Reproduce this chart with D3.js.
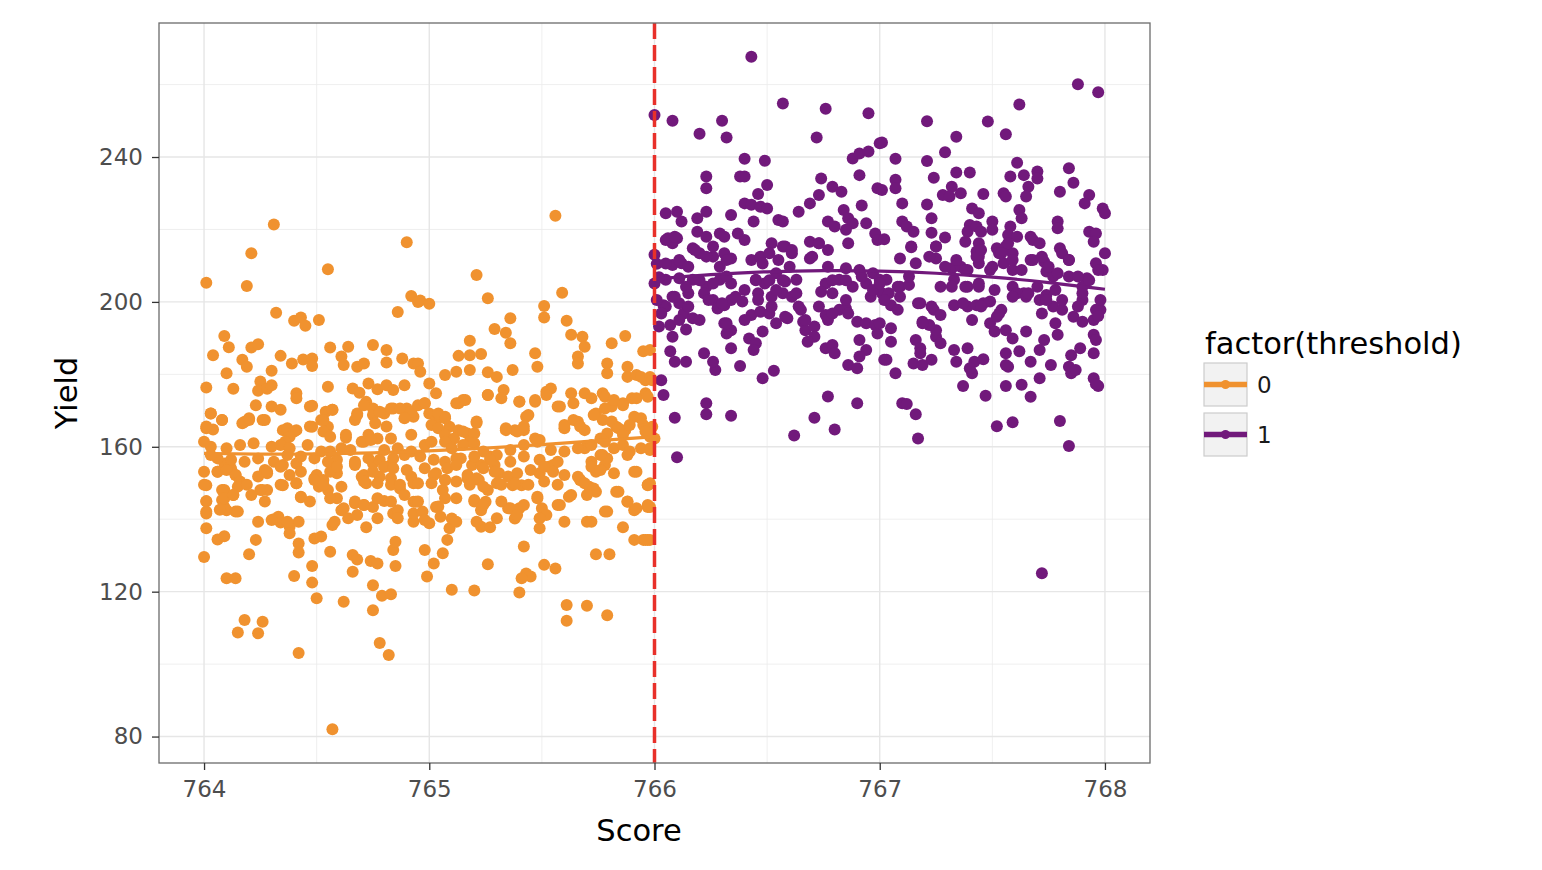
<!DOCTYPE html>
<html><head><meta charset="utf-8">
<script src="https://cdn.jsdelivr.net/npm/d3@7"></script>
<style>body{margin:0;background:#fff;} svg{display:block;font-family:"DejaVu Sans",sans-serif;}</style>
</head><body><svg id="chart" width="1542" height="870"></svg>
<script>
const xTicks=[764,765,766,767,768];
const xMinor=[764.5,765.5,766.5,767.5];
const yTicks=[80,120,160,200,240];
const yMinor=[100,140,180,220,260];
const threshold=766;
const groups=["0","1"];
const colors=["#F0922F","#71197B"];
const xTitle="Score", yTitle="Yield", legendTitle="factor(threshold)";

const smooth0=[[764.0,158.2],[764.25,157.9],[764.5,158.0],[764.75,158.3],[765.0,158.8],[765.25,159.6],[765.5,160.6],[765.75,161.7],[766.0,162.8]];
const smooth1=[[766.0,206.3],[766.25,207.6],[766.5,208.4],[766.75,208.7],[767.0,208.6],[767.25,208.0],[767.5,206.9],[767.75,205.4],[768.0,203.5]];

const points0=[
[764.31,221.4],[764.21,213.4],[764.01,205.3],[764.19,204.4],[764.55,209.0],[764.90,216.5],[764.92,201.6],[764.95,200.0],[764.86,197.2],[764.32,197.0],[764.40,194.8],[764.43,195.7],[764.45,193.4],[764.51,195.0],[764.09,190.6],[764.11,187.5],[764.04,185.3],[764.21,187.4],[764.24,188.3],[764.17,184.0],[764.19,182.1],[764.34,185.1],[764.39,183.0],[764.44,184.1],[764.48,184.4],[764.48,182.3],[764.56,187.4],[764.61,184.9],[764.64,187.6],[764.62,182.6],[764.68,182.1],[764.71,183.0],[764.75,188.1],[764.81,186.7],[764.81,183.3],[764.88,184.4],[764.93,183.0],[764.10,180.3],[764.01,176.4],[764.13,176.0],[764.30,181.0],[764.25,178.0],[764.24,175.5],[764.28,176.0],[764.30,177.0],[764.41,174.8],[764.41,173.4],[764.55,176.6],[764.48,171.3],[764.57,170.2],[764.66,176.1],[764.69,174.9],[764.73,177.5],[764.77,175.9],[764.81,177.0],[764.84,175.7],[764.89,177.0],[764.72,172.4],[764.75,170.6],[764.80,169.2],[764.84,170.6],[764.90,170.6],[764.93,168.3],[764.03,169.2],[764.08,167.4],[764.01,165.1],[764.04,164.8],[764.18,166.9],[764.20,167.4],[764.27,167.4],[764.35,164.6],[764.38,163.7],[764.41,164.6],[764.48,165.5],[764.52,167.4],[764.55,165.5],[764.68,169.2],[764.67,167.4],[764.63,162.5],
[765.56,223.8],[765.21,207.4],[765.26,201.0],[765.59,202.5],[765.51,198.9],[765.51,195.7],[764.96,200.4],[765.00,199.5],[765.36,195.5],[765.29,192.5],[765.34,191.5],[765.36,188.6],[765.61,194.8],[765.63,190.9],[765.68,190.4],[765.69,187.6],[765.18,189.3],[765.13,185.1],[765.18,185.3],[765.23,185.6],[765.07,179.8],[765.12,180.7],[765.18,181.2],[765.26,180.6],[765.30,179.3],[765.37,181.2],[765.47,185.8],[765.48,182.1],[765.66,184.9],[765.66,183.0],[765.81,188.6],[765.87,190.6],[765.95,186.4],[765.79,183.0],[765.79,180.3],[765.88,182.1],[765.88,179.3],[765.92,179.8],[765.96,178.4],[764.95,183.0],[764.96,180.7],[765.00,177.5],[765.03,174.8],[765.26,174.3],[765.33,175.7],[765.40,172.4],[765.47,172.4],[765.52,175.2],[765.54,176.1],[765.58,171.1],[765.63,174.8],[765.69,174.8],[765.77,174.8],[765.13,172.0],[765.15,172.9],[764.98,172.0],[765.21,166.6],[765.34,164.6],[765.38,164.6],[765.43,168.3],[765.42,164.6],[765.60,165.1],[765.66,166.9],[765.69,164.6],[765.74,169.2],[765.77,167.4],[765.81,171.1],[765.86,172.0],[765.90,173.4],[765.96,174.8],[765.94,179.3],[765.95,166.0],[765.83,165.5],[765.87,164.6],[765.91,168.3],[765.00,169.2],[765.03,167.4],[765.07,168.3],[765.09,165.5],[765.13,164.6],[765.17,163.7],[765.20,163.7],[765.49,161.9],
[765.98,186.7],[765.98,179.3],[765.99,178.4],[765.99,165.5],[765.98,162.8],[765.98,159.1],[765.98,149.9],[765.98,143.4],[765.98,134.3],[765.95,134.3],[765.97,134.3],
[764.00,153.1],[764.01,149.4],[764.01,145.0],[764.01,141.6],[764.01,137.5],[764.00,129.6],[764.06,134.4],[764.09,135.3],[764.08,145.3],[764.09,143.4],[764.10,142.5],[764.14,142.1],[764.06,153.1],[764.09,155.4],[764.12,154.0],[764.14,152.2],[764.08,148.1],[764.13,146.7],[764.10,123.7],[764.14,123.7],[764.23,134.3],[764.20,130.3],[764.18,112.2],[764.26,111.7],[764.15,108.7],[764.24,108.5],[764.42,103.1],[764.57,82.0],[764.40,124.3],[764.43,146.1],[764.31,140.0],[764.34,139.1],[764.38,137.9],[764.38,136.1],[764.42,139.3],[764.42,133.3],[764.42,130.8],[764.48,127.1],[764.48,122.5],[764.50,118.2],[764.49,134.7],[764.52,135.2],[764.57,138.4],[764.56,131.0],[764.62,117.2],[764.66,130.1],[764.68,128.9],[764.66,125.5],[764.72,137.8],[764.75,121.8],[764.75,114.9],[764.74,128.5],[764.77,127.8],[764.78,105.8],[764.82,102.5],[764.79,118.9],[764.83,119.3],[764.84,131.5],[764.85,133.8],[764.85,127.1],[764.93,139.3],[764.67,144.4],[764.71,143.9],[764.75,143.4],[764.80,145.0],[764.84,141.6],[764.86,142.5],[764.61,142.5],[764.51,149.0],[764.55,148.1],[764.35,149.4],[764.41,149.9],[764.27,153.6],[764.28,152.7],[764.26,148.1],[764.28,148.1],[764.35,155.0],[764.41,155.4],[764.49,151.3],[764.53,150.8],[764.58,155.0],[764.59,152.7],[764.59,145.8],[764.67,155.0],[764.75,155.4],[764.80,154.5],[764.83,155.0],[764.70,151.7],[764.72,149.9],[764.78,151.7],[764.83,151.3],[764.87,148.5],[764.92,151.7],[764.93,149.9],[764.93,144.8],[764.93,141.6],
[764.99,124.2],[765.10,120.5],[765.20,120.3],[764.98,131.5],[765.02,127.8],[765.06,130.6],[765.08,134.3],[765.09,137.5],[765.10,140.2],[765.12,139.3],[765.26,127.6],[765.40,119.8],[765.42,132.5],[765.43,125.0],[765.45,124.2],[765.41,123.7],[765.51,127.4],[765.56,126.4],[765.61,116.3],[765.70,116.1],[765.61,112.0],[765.79,113.5],[765.74,130.3],[765.80,130.3],[765.70,139.3],[765.49,137.5],[765.79,142.1],[765.86,137.8],[765.91,134.3],[765.96,134.3],[765.91,142.5],[765.97,143.4],[765.23,137.9],[765.27,137.8],[765.38,140.2],[765.35,143.0],[765.40,143.0],[765.20,145.3],[765.25,144.8],[765.23,142.5],[765.48,146.2],[765.50,143.0],[765.52,141.2],[765.58,143.9],[765.62,146.2],[765.83,147.6],[765.88,144.8],[765.91,153.1],[765.97,149.4],[765.37,149.4],[765.41,149.4],[765.30,149.9],[765.31,152.7],[765.17,151.3],[765.22,150.8],[765.26,148.1],[765.06,148.1],[765.07,150.8],[765.03,152.7],[764.94,144.8],[764.97,142.1],[765.00,138.9],[765.03,143.4],[765.67,150.8],[765.71,149.0],[765.74,147.6],[765.66,151.7],[765.49,152.7],[765.53,154.5],[765.55,155.0],[765.69,159.6],[765.77,157.7],[765.78,155.0],[765.74,153.1],[765.14,156.8],[765.19,155.0],[765.27,157.3],[765.29,155.0],
[764.03,169.2],[764.01,165.6],[764.08,167.4],[764.17,166.5],[764.20,167.9],[764.26,167.4],[764.23,171.5],[764.30,171.1],[764.34,170.2],[764.37,165.1],[764.40,164.2],[764.38,162.8],[764.36,161.4],[764.47,171.1],[764.54,169.7],[764.57,170.2],[764.53,167.4],[764.47,165.6],[764.53,164.2],[764.56,162.8],[764.63,163.3],[764.68,168.8],[764.71,171.5],[764.75,168.8],[764.78,169.7],[764.83,170.6],[764.87,170.6],[764.92,169.7],[764.95,171.5],[764.98,172.0],[764.76,166.5],[764.81,165.6],[764.89,167.9],[764.92,163.3],[764.83,162.3],[764.77,162.3],[764.71,161.4],[764.73,163.3],[765.04,169.2],[765.07,167.9],[765.01,166.0],[765.04,165.1],[765.07,163.3],[765.11,162.3],[765.15,164.2],[765.18,161.4],[765.21,167.0],[765.12,172.0],[765.16,172.9],[765.26,174.3],[765.32,173.4],[765.40,172.5],[765.47,172.9],[765.52,174.3],[765.57,171.1],[765.64,172.0],[765.72,173.4],[765.78,173.8],[765.82,172.9],[765.86,171.5],[765.92,173.4],[765.97,173.8],[765.34,165.1],[765.39,164.2],[765.42,165.6],[765.44,168.8],[765.47,162.3],[765.60,166.0],[765.64,167.4],[765.67,165.6],[765.73,168.8],[765.78,170.6],[765.81,167.0],[765.84,165.1],[765.86,163.3],[765.89,166.0],[765.94,167.9],[765.96,164.2],[765.79,163.7],[765.76,162.3],
[764.00,161.4],[764.03,160.0],[764.10,159.6],[764.16,160.5],[764.22,161.0],[764.30,160.0],[764.34,160.5],[764.38,159.6],[764.46,160.5],[764.52,158.7],[764.56,158.7],[764.61,159.6],[764.65,159.1],[764.70,161.4],[764.74,161.9],[764.80,159.1],[764.86,159.6],[764.92,158.7],[764.98,160.5],[765.01,161.4],[765.07,161.4],[765.10,159.6],[765.15,160.5],[765.20,161.0],[765.24,158.7],[765.30,157.7],[765.36,159.1],[765.42,160.5],[765.48,161.4],[765.54,159.1],[765.60,158.7],[765.66,159.6],[765.72,160.5],[765.78,161.4],[765.82,159.6],[765.86,160.5],[765.89,158.7],[765.94,159.6],[765.98,159.6],[766.00,162.3],[765.88,157.7],[765.79,156.8],[765.72,155.9],[765.76,157.7],[765.57,155.9],[765.49,156.4],[765.42,157.3],[765.36,155.9],[765.27,156.4],[765.23,155.0],[765.20,157.3],[765.12,156.8],[765.07,155.9],[765.02,156.4],[764.96,157.3],[764.89,157.7],[764.84,156.8],[764.78,156.4],[764.73,156.8],[764.67,155.9],[764.59,156.4],[764.55,155.9],[764.49,156.8],[764.43,157.3],[764.37,157.7],[764.31,155.9],[764.24,156.8],[764.18,155.9],[764.12,156.4],[764.06,156.8],[764.03,157.7],
[764.06,153.1],[764.10,153.6],[764.14,152.2],[764.16,150.4],[764.24,151.8],[764.28,153.1],[764.34,154.5],[764.38,152.2],[764.43,153.1],[764.50,152.2],[764.56,153.1],[764.59,154.5],[764.67,155.4],[764.71,152.2],[764.75,153.1],[764.80,154.5],[764.84,154.1],[764.90,153.6],[764.98,154.1],[765.02,152.2],[765.08,154.1],[765.12,155.0],[765.17,152.2],[765.21,151.3],[765.24,154.1],[765.29,153.1],[765.35,151.8],[765.39,152.7],[765.45,153.6],[765.51,154.5],[765.55,153.1],[765.60,152.2],[765.67,150.8],[765.72,154.5],[765.76,153.6],[765.82,152.7],[765.92,153.1],[764.00,149.5],[764.09,148.1],[764.15,149.0],[764.19,149.5],[764.25,148.1],[764.34,149.5],[764.41,149.9],[764.49,150.8],[764.53,149.5],[764.61,149.0],[764.71,150.4],[764.77,149.9],[764.83,149.5],[764.87,149.5],[764.95,149.9],[765.01,149.9],[765.07,150.8],[765.12,150.4],[765.18,149.5],[765.24,149.0],[765.32,149.5],[765.38,149.9],[765.44,149.5],[765.51,150.4],[765.57,149.5],[765.69,149.9],[765.73,148.5],[765.97,149.5],
[764.01,144.9],[764.09,145.8],[764.13,146.7],[764.21,146.7],[764.27,144.9],[764.33,140.7],[764.37,139.3],[764.43,146.2],[764.47,144.9],[764.56,145.8],[764.62,143.0],[764.67,144.9],[764.71,143.9],[764.77,145.8],[764.83,144.9],[764.89,146.7],[764.95,144.9],[765.04,143.5],[765.07,145.8],[765.12,145.8],[765.20,144.9],[765.24,143.9],[765.32,144.9],[765.36,143.0],[765.42,143.9],[765.48,145.8],[765.57,143.9],[765.63,146.7],[765.70,146.7],[765.78,142.1],[765.84,147.6],[765.88,144.9],[765.92,143.0],[765.97,143.9],[764.01,142.1],[764.07,142.6],[764.15,142.1],[764.24,139.3],[764.30,139.8],[764.58,139.3],[764.64,140.3],[764.68,141.2],[764.77,140.3],[764.86,140.3],[764.98,139.8],[765.05,140.7],[765.21,139.3],[765.30,140.3],[765.39,141.2],[765.49,140.3],[765.60,139.3],[765.72,139.3]
];

const points1=[
[766.43,267.7],[766.00,251.6],[766.08,250.0],[766.20,246.4],[766.30,250.0],[766.32,245.4],[766.57,254.8],[766.76,253.3],[766.95,252.1],[766.72,245.4],[767.00,243.8],[766.88,239.6],[766.91,241.0],[766.95,241.5],[766.91,235.0],[766.99,231.4],[766.40,239.5],[766.49,239.0],[766.23,234.6],[766.23,231.4],[766.38,234.6],[766.40,234.6],[766.50,232.3],[766.46,229.8],[766.40,227.2],[766.43,226.8],[766.47,226.3],[766.50,225.8],[766.74,234.1],[766.79,231.8],[766.83,230.4],[766.73,229.5],[766.69,227.2],[766.64,224.9],[766.92,226.6],[766.84,225.4],[766.86,223.1],[766.88,221.7],[766.85,219.9],[766.05,224.5],[766.10,224.9],[766.12,222.2],[766.19,223.1],[766.23,224.9],[766.34,224.0],[766.44,222.2],[766.55,222.6],[766.57,222.2],[766.77,222.2],[766.80,220.8],[766.94,221.7],[766.98,218.9],[766.06,217.6],[766.10,217.6],[766.08,216.2],[766.19,219.4],[766.23,218.0],[766.29,218.9],[766.31,218.0],[766.37,218.9],[766.40,217.1],[766.69,216.6],[766.73,216.2],[766.77,214.3],[766.52,216.2],[766.58,215.3],[766.61,213.4],[766.86,216.2],[766.99,217.1],[766.00,213.0],[766.17,214.8],[766.20,213.4],[766.26,212.5],[766.31,213.4],[766.34,212.0],[766.43,211.6],[766.47,212.5],[766.51,213.4],[766.55,211.6],[766.69,212.0],[766.08,210.2],[766.12,210.7],[766.77,209.7],[766.85,209.3],[766.91,208.8],[766.97,207.9],[766.00,205.1],[766.05,206.1],[766.11,206.5],[766.17,206.1],[766.23,204.2],[766.29,206.1],[766.34,205.1],[766.45,206.1],[766.49,205.1],[766.54,207.9],[766.58,205.6],[766.63,206.1],[766.76,205.1],[766.82,206.1],[766.88,204.2],[766.94,205.1],[767.00,206.1],
[767.88,260.1],[767.97,257.9],[767.62,254.5],[767.21,249.9],[767.48,249.8],[767.56,246.3],[767.34,245.6],[767.29,241.3],[767.01,244.0],[767.07,239.5],[767.21,238.9],[767.61,238.4],[767.84,236.9],[767.34,235.7],[767.40,235.7],[767.58,234.6],[767.64,235.0],[767.70,236.0],[767.70,234.1],[767.86,232.9],[767.24,234.3],[767.07,233.7],[767.07,231.4],[767.01,230.9],[767.32,231.8],[767.36,230.0],[767.28,229.5],[767.31,229.1],[767.46,229.8],[767.55,230.0],[767.56,229.1],[767.66,231.8],[767.65,229.1],[767.80,230.4],[767.93,229.5],[767.91,227.2],[767.99,225.8],[768.00,224.5],[767.10,227.2],[767.21,226.9],[767.41,225.8],[767.44,224.5],[767.62,225.4],[767.63,223.1],[767.23,223.1],[767.10,222.2],[767.12,220.8],[767.15,219.4],[767.40,221.2],[767.39,219.4],[767.43,220.8],[767.45,219.4],[767.50,222.2],[767.50,219.9],[767.58,220.8],[767.57,218.5],[767.61,218.0],[767.79,222.2],[767.79,220.3],[767.02,217.3],[767.23,219.1],[767.25,215.3],[767.29,217.8],[767.38,216.6],[767.44,216.2],[767.43,213.9],[767.44,212.5],[767.52,214.8],[767.53,213.4],[767.56,215.3],[767.59,213.4],[767.67,218.0],[767.68,217.1],[767.71,216.2],[767.93,219.4],[767.96,218.9],[767.95,216.6],[767.14,215.1],[767.80,214.8],[767.81,213.4],[767.84,211.6],[767.09,212.0],[767.16,210.7],[767.25,212.0],[767.32,209.3],[767.36,209.7],[767.39,208.8],[767.44,210.7],[767.49,208.8],[767.55,210.7],[767.59,208.8],[767.67,211.6],[767.73,211.1],[767.74,208.4],[767.96,210.7],[767.99,208.8],[767.03,206.1],[767.09,204.2],[767.13,204.7],[767.27,204.2],[767.33,206.1],[767.39,204.2],[767.44,204.2],[767.59,204.2],[767.64,202.4],[767.70,204.2],[767.77,207.0],[767.84,207.0],[767.92,206.5],[767.90,204.2],
[766.10,157.1],[766.09,168.0],[766.04,174.3],[766.03,178.4],[766.23,172.0],[766.23,169.0],[766.34,168.6],[766.62,163.1],[766.71,168.0],[766.80,164.8],[766.77,173.9],[766.90,172.0],[766.48,178.9],[766.53,181.0],[766.38,182.3],[766.27,181.2],[766.26,183.5],[766.22,185.8],[766.34,187.2],[766.09,183.5],[766.14,183.5],[766.07,186.4],[766.08,190.4],[766.14,192.4],[766.02,193.2],[766.07,193.6],[766.13,196.8],[766.17,195.5],[766.11,199.6],[766.08,201.4],[766.04,199.1],[766.15,202.4],[766.22,202.4],[766.26,200.5],[766.28,198.2],[766.31,199.1],[766.34,200.5],[766.39,200.1],[766.31,194.1],[766.34,192.2],[766.32,191.3],[766.43,196.4],[766.47,197.3],[766.51,196.8],[766.48,191.8],[766.42,189.9],[766.45,188.6],[766.44,186.7],[766.54,194.1],[766.59,195.5],[766.46,202.4],[766.52,201.4],[766.57,202.4],[766.61,201.4],[766.65,197.8],[766.66,194.5],[766.67,192.2],[766.71,193.2],[766.71,190.4],[766.68,189.0],[766.76,196.4],[766.77,195.0],[766.82,197.8],[766.85,198.2],[766.86,196.8],[766.76,187.2],[766.79,188.1],[766.80,185.8],[766.74,202.8],[766.79,202.4],[766.90,194.5],[766.94,194.1],[766.91,189.5],[766.94,186.7],[766.91,184.9],[766.86,182.6],[766.90,181.7],[766.98,193.6],[766.99,191.3],[767.02,184.0],[766.96,201.4],
[767.72,125.1],[767.17,162.3],[767.84,160.2],[767.16,169.0],[767.10,172.0],[767.12,171.8],[767.52,165.7],[767.59,166.8],[767.80,167.1],[767.47,174.1],[767.37,176.8],[767.56,176.8],[767.63,177.1],[767.67,173.8],[767.71,178.9],[767.95,178.9],[767.97,176.8],[767.07,180.3],[767.41,180.3],[767.42,183.5],[767.40,181.7],[767.34,183.5],[767.33,186.7],[767.39,187.2],[767.46,184.2],[767.56,185.8],[767.57,182.1],[767.56,182.6],[767.62,186.4],[767.67,183.5],[767.71,186.7],[767.73,189.5],[767.76,182.6],[767.84,182.1],[767.85,180.3],[767.87,181.2],[767.85,185.3],[767.89,187.2],[767.95,185.8],[767.95,190.9],[767.03,184.0],[767.05,189.0],[767.05,192.7],[767.15,183.0],[767.19,182.6],[767.23,184.0],[767.16,189.5],[767.18,187.2],[767.18,185.8],[767.25,190.4],[767.27,188.6],[767.25,192.2],[767.22,193.6],[767.19,194.5],[767.19,194.1],[767.18,199.6],[767.24,197.8],[767.27,196.4],[767.33,199.1],[767.39,198.7],[767.43,199.1],[767.49,200.1],[767.46,199.6],[767.41,195.0],[767.49,194.1],[767.52,195.9],[767.54,197.8],[767.51,191.8],[767.56,192.2],[767.59,189.9],[767.65,191.8],[767.61,202.4],[767.65,201.4],[767.71,200.5],[767.74,201.9],[767.78,203.3],[767.72,196.8],[767.78,194.1],[767.79,190.9],[767.77,198.7],[767.81,197.8],[767.86,195.9],[767.90,194.5],[767.95,195.0],[767.98,197.8],[767.90,200.5],[767.90,202.4],[767.00,194.1],[767.05,199.1],[767.09,201.4],[767.01,202.4],
[766.05,217.1],[766.09,218.0],[766.05,210.6],[766.11,211.6],[766.15,209.7],[766.18,214.3],[766.23,212.5],[766.26,215.3],[766.29,209.7],[766.32,211.6],[766.20,206.0],[766.26,205.1],[766.32,207.0],[766.14,204.2],[766.09,201.4],[766.05,198.7],[766.15,198.7],[766.24,200.5],[766.30,199.6],[766.36,201.4],[766.40,203.3],[766.45,206.0],[766.48,210.6],[766.51,206.0],[766.54,203.3],[766.57,206.0],[766.60,209.7],[766.63,202.4],[766.64,198.7],[766.46,200.5],[766.52,198.7],[766.57,215.3],[766.61,214.3],[766.70,212.5],[766.73,216.2],[766.79,206.0],[766.85,206.0],[766.92,207.0],[766.97,203.3],[767.00,205.1],[767.04,202.4],[767.08,204.2],[767.13,207.0],[767.14,215.3],[767.22,212.5],[767.25,215.3],[767.29,209.7],[767.34,211.6],[767.38,208.8],[767.43,212.5],[767.45,214.3],[767.50,209.7],[767.54,213.4],[767.57,216.2],[767.59,211.6],[767.63,208.8],[767.68,211.6],[767.72,212.5],[767.75,209.7],[767.79,207.9],[767.84,211.6],[767.88,207.0],[767.93,206.0],[767.97,208.8],[768.00,213.4],[767.32,204.2],[767.38,204.2],[767.44,205.1],[767.51,203.3],[767.59,201.4],[767.66,202.4],[767.74,200.5],[767.81,200.5],[767.88,198.7],[767.96,197.8],[767.37,199.6],[767.45,198.7],[767.53,196.8],[767.17,199.6],[767.23,198.7],[767.08,197.8],[767.02,200.5],[766.85,200.5],[766.79,196.8],[766.73,198.7],[766.67,195.0],[766.58,195.9],[766.40,195.0],[766.32,194.1],[766.20,195.0],[766.11,195.0],[766.03,196.8],
[766.01,200.5],[766.02,206.8],[766.01,210.5],[767.98,200.5],[767.97,196.1],[767.96,189.5],[767.96,177.3]
];

const svg=d3.select("#chart");
const P={l:159,r:1150,t:23,b:763};
const x=d3.scaleLinear().domain([763.8,768.2]).range([P.l,P.r]);
const y=d3.scaleLinear().domain([72.7,277]).range([P.b,P.t]);

svg.append("rect").attr("x",P.l).attr("y",P.t).attr("width",P.r-P.l).attr("height",P.b-P.t).attr("fill","#fff");

const grid=svg.append("g");
grid.selectAll(".xm").data(xMinor).join("line").attr("x1",d=>x(d)).attr("x2",d=>x(d)).attr("y1",P.t).attr("y2",P.b).attr("stroke","#EBEBEB").attr("stroke-width",0.8);
grid.selectAll(".ym").data(yMinor).join("line").attr("y1",d=>y(d)).attr("y2",d=>y(d)).attr("x1",P.l).attr("x2",P.r).attr("stroke","#EBEBEB").attr("stroke-width",0.8);
grid.selectAll(".xM").data(xTicks).join("line").attr("x1",d=>x(d)).attr("x2",d=>x(d)).attr("y1",P.t).attr("y2",P.b).attr("stroke","#E6E6E6").attr("stroke-width",1.4);
grid.selectAll(".yM").data(yTicks).join("line").attr("y1",d=>y(d)).attr("y2",d=>y(d)).attr("x1",P.l).attr("x2",P.r).attr("stroke","#E6E6E6").attr("stroke-width",1.4);

const R=6;
[points0,points1].forEach((pts,i)=>{
  svg.append("g").selectAll("circle").data(pts).join("circle")
    .attr("cx",d=>x(d[0])).attr("cy",d=>y(d[1])).attr("r",R).attr("fill",colors[i]);
});

const line=d3.line().x(d=>x(d[0])).y(d=>y(d[1])).curve(d3.curveBasis);
[smooth0,smooth1].forEach((s,i)=>{
  svg.append("path").datum(s).attr("d",line).attr("fill","none").attr("stroke",colors[i]).attr("stroke-width",3.2);
});

svg.append("line").attr("x1",x(threshold)).attr("x2",x(threshold)).attr("y1",P.t).attr("y2",P.b)
  .attr("stroke","#E8302A").attr("stroke-width",3.5).attr("stroke-dasharray","16,6");

svg.append("rect").attr("x",P.l).attr("y",P.t).attr("width",P.r-P.l).attr("height",P.b-P.t)
  .attr("fill","none").attr("stroke","#6b6b6b").attr("stroke-width",1.3);

const xAxis=svg.append("g").attr("transform",`translate(0,${P.b})`)
  .call(d3.axisBottom(x).tickValues(xTicks).tickSize(7).tickPadding(11).tickFormat(d3.format("d")));
const yAxis=svg.append("g").attr("transform",`translate(${P.l},0)`)
  .call(d3.axisLeft(y).tickValues(yTicks).tickSize(7).tickPadding(9).tickFormat(d3.format("d")));
[xAxis,yAxis].forEach(a=>{
  a.select(".domain").remove();
  a.selectAll(".tick line").attr("stroke","#333").attr("stroke-width",1.3);
  a.selectAll(".tick text").attr("fill","#4D4D4D").style("font-size","23px").style("font-family","DejaVu Sans");
});

svg.append("text").attr("x",639).attr("y",841).attr("text-anchor","middle").style("font-size","30.5px").attr("fill","#000").text(xTitle);
svg.append("text").attr("transform","translate(77,393) rotate(-90)").attr("text-anchor","middle").style("font-size","30.5px").attr("fill","#000").text(yTitle);

const leg=svg.append("g");
leg.append("text").attr("x",1205).attr("y",354).style("font-size","30.5px").attr("fill","#000").text(legendTitle);
groups.forEach((g,i)=>{
  const ty=363+i*50;
  leg.append("rect").attr("x",1204).attr("y",ty).attr("width",43).attr("height",43).attr("fill","#F2F2F2").attr("stroke","#CCCCCC").attr("stroke-width",1.2);
  leg.append("line").attr("x1",1204).attr("x2",1247).attr("y1",ty+21.5).attr("y2",ty+21.5).attr("stroke",colors[i]).attr("stroke-width",5.5);
  leg.append("circle").attr("cx",1225.5).attr("cy",ty+21.5).attr("r",4.5).attr("fill",colors[i]);
  leg.append("text").attr("x",1257).attr("y",ty+21.5).attr("dy","0.36em").style("font-size","23px").attr("fill","#1a1a1a").text(g);
});
</script></body></html>
